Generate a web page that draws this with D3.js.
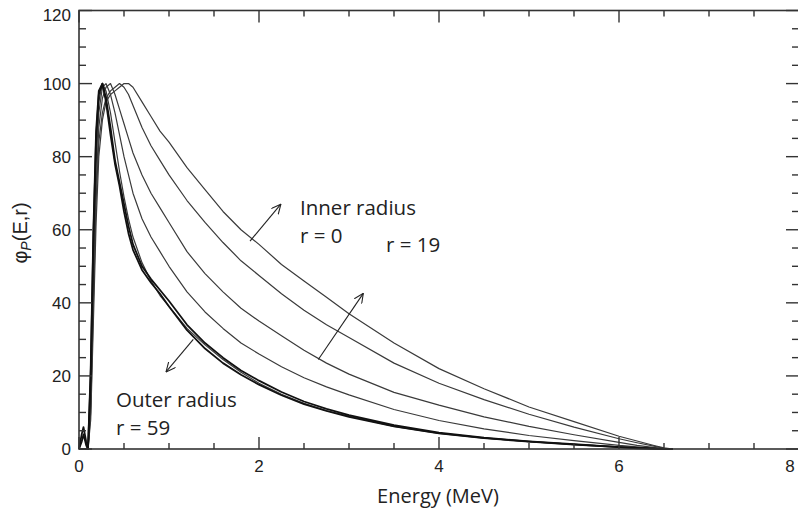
<!DOCTYPE html>
<html><head><meta charset="utf-8">
<script src="https://cdn.jsdelivr.net/npm/d3@7"></script>
<style>
html,body{margin:0;padding:0;background:#fff;}
svg{display:block;}
</style></head>
<body>
<svg id="chart" width="798" height="513"></svg>
<script>
// ---- data ----
const energy = [0, 0.03, 0.05, 0.08, 0.1, 0.13, 0.16, 0.19, 0.22, 0.26, 0.3, 0.35, 0.4, 0.45, 0.5, 0.55, 0.6, 0.7, 0.8, 0.9, 1.0, 1.2, 1.4, 1.6, 1.8, 2.0, 2.25, 2.5, 2.75, 3.0, 3.5, 4.0, 4.5, 5.0, 5.5, 6.0, 6.2, 6.4, 6.5, 6.6];
const phiR0  = [0,0,0,0,0, 8,35,62,80,90,95,97,98,99,100,100,99,95,91,87,84,77,71,65,60,56,50.5,46,41.5,37,29,22,16.5,11.5,7.5,3.5,2.2,0.9,0.3,0];
const phiR10 = [0,0,0,0,0, 10,40,68,84,92,96,98,99,100,99,97,94,88,83,79,75,68,62,56.5,51.5,47.5,42.5,38,34,30.5,23.5,18,13.5,9.5,6,2.8,1.7,0.7,0.2,0];
const phiR19 = [0,0,0,0,0, 12,45,72,88,96,99,100,97,93,89,85,81,75,70,66,62,54,48,43,38.5,35,31,27,23.5,20.5,15.5,12,8.8,6.2,3.9,1.8,1.0,0.4,0.1,0];
const phiR29 = [0,0,0,0,0, 15,50,78,92,99,100,97,92,86,80,75,70,63,58,54,50,43,37.5,33,29,26,22.5,19.5,17,14.8,10.8,7.8,5.5,3.7,2.3,1.0,0.6,0.2,0,0];
const phiR39 = [0,0,0,0,0, 18,55,82,95,100,98,92,84,76,69,63,58,51,46,42,39,33,28.5,24.5,21,18,15,12.5,10.5,9,6.2,4.3,3.0,2.0,1.3,0.6,0.3,0.1,0,0];
const phiR49 = [0,2,4,1,0, 20,58,85,97,100,96,88,79,73,67,61,56,50,46.5,43.5,40.5,34,29,25,21.5,18.7,15.6,13,11,9.3,6.5,4.5,3.1,2.1,1.3,0.5,0.3,0.1,0,0];
const phiR59 = [0,4,6,2,0, 22,60,87,98,100,95,86,78,72,65,59,54.5,49,45.5,42.5,39,32.5,27.5,23.5,20.3,17.6,14.7,12.3,10.4,8.8,6.2,4.3,3.0,2.0,1.2,0.5,0.2,0.05,0,0];
const seriesNames = ["r = 0","r = 10","r = 19","r = 29","r = 39","r = 49","r = 59"];
const seriesValues = [phiR0, phiR10, phiR19, phiR29, phiR39, phiR49, phiR59];
const xMajorTicks = [0, 2, 4, 6, 8];
const yMajorTicks = [0, 20, 40, 60, 80, 100, 120];
const xTitle = "Energy (MeV)";
// annotation arrows in data units [x1,y1,x2,y2] (head at x2,y2)
const arrows = [[1.9, 56.9, 2.243, 67.0], [2.659, 24.5, 3.159, 42.6], [1.27, 30.0, 0.967, 21.1]];

// ---- layout ----
const svg = d3.select("#chart");
const L = 79, R = 799, T = 10.5, B = 449;
const x = d3.scaleLinear().domain([0, 8]).range([L, R]);
const y = d3.scaleLinear().domain([0, 120]).range([B, T]);
const ink = "#333";

// curves
const line = d3.line().x(d => x(d[0])).y(d => y(d[1]));
const g = svg.append("g");
seriesValues.forEach((vals, i) => {
  const pts = energy.map((e, k) => [e, vals[k]]);
  g.append("path").attr("d", line(pts)).attr("fill", "none")
    .attr("stroke", i >= 5 ? "#111" : "#3a3a3a")
    .attr("stroke-width", i >= 5 ? 1.8 : 1.2)
    .attr("stroke-linejoin", "round");
});

// frame
svg.append("rect").attr("x", L).attr("y", T).attr("width", R - L).attr("height", B - T)
  .attr("fill", "none").attr("stroke", ink).attr("stroke-width", 1.6);

// ticks (inward, all four sides)
const ax = svg.append("g").attr("stroke", ink).attr("stroke-width", 1.4);
const xMinor = d3.range(0, 8.001, 0.5);
xMinor.forEach(v => {
  const major = xMajorTicks.includes(v);
  const len = major ? 12 : 6;
  ax.append("line").attr("x1", x(v)).attr("x2", x(v)).attr("y1", B).attr("y2", B - len);
  ax.append("line").attr("x1", x(v)).attr("x2", x(v)).attr("y1", T).attr("y2", T + len);
});
const yMinor = d3.range(0, 120.001, 5);
yMinor.forEach(v => {
  const major = yMajorTicks.includes(v);
  const len = major ? 13 : 7;
  ax.append("line").attr("y1", y(v)).attr("y2", y(v)).attr("x1", L).attr("x2", L + len);
  ax.append("line").attr("y1", y(v)).attr("y2", y(v)).attr("x1", R).attr("x2", R - len);
});

// tick labels
const tickFont = "'Liberation Sans', Arial, sans-serif";
svg.append("g").selectAll("text").data(xMajorTicks).join("text")
  .attr("x", d => Math.min(x(d), 790)).attr("y", B + 23).attr("text-anchor", "middle")
  .attr("font-family", tickFont).attr("font-size", 17).attr("fill", "#222")
  .text(d => d);
svg.append("g").selectAll("text").data(yMajorTicks).join("text")
  .attr("x", L - 8).attr("y", d => Math.max(y(d) + 6, 21)).attr("text-anchor", "end")
  .attr("font-family", tickFont).attr("font-size", 17).attr("fill", "#222")
  .text(d => d);

// axis titles
const labFont = "'Open Sans', 'Noto Sans', sans-serif";
svg.append("text").attr("x", (L + R) / 2 - 1).attr("y", 503).attr("text-anchor", "middle")
  .attr("font-family", labFont).attr("font-size", 20).attr("fill", "#222").text(xTitle);
const yl = svg.append("text").attr("transform", "translate(27,233) rotate(-90)")
  .attr("text-anchor", "middle").attr("font-family", tickFont).attr("font-size", 20).attr("fill", "#222");
yl.append("tspan").text("φ");
yl.append("tspan").attr("font-size", 14).attr("font-style", "italic").attr("dy", 4).text("P");
yl.append("tspan").attr("dy", -4).text("(E,r)");

// annotations
const ann = svg.append("g").attr("font-family", labFont).attr("font-size", 20.5).attr("fill", "#222");
ann.append("text").attr("x", 300).attr("y", 215).text("Inner radius");
ann.append("text").attr("x", 300).attr("y", 243).text("r = 0");
ann.append("text").attr("x", 386).attr("y", 252).text("r = 19");
ann.append("text").attr("x", 116).attr("y", 407).text("Outer radius");
ann.append("text").attr("x", 116).attr("y", 435).text("r = 59");

// arrows
svg.append("defs").append("marker").attr("id", "ah").attr("viewBox", "0 0 10 10")
  .attr("refX", 9.5).attr("refY", 5).attr("markerWidth", 10).attr("markerHeight", 10)
  .attr("markerUnits", "userSpaceOnUse").attr("orient", "auto")
  .append("path").attr("d", "M0,0.5 L9.5,5 L0,9.5").attr("fill", "none").attr("stroke", "#222").attr("stroke-width", 1.1);
svg.append("g").selectAll("line").data(arrows).join("line")
  .attr("x1", d => x(d[0])).attr("y1", d => y(d[1])).attr("x2", d => x(d[2])).attr("y2", d => y(d[3]))
  .attr("stroke", "#222").attr("stroke-width", 1.1).attr("marker-end", "url(#ah)");
</script>
</body></html>
